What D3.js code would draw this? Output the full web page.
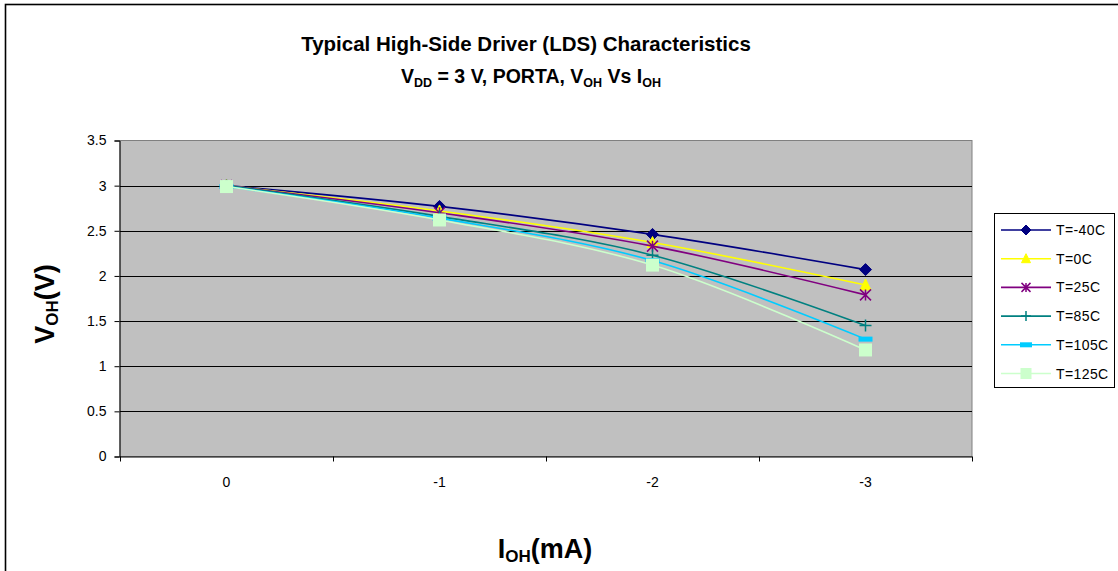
<!DOCTYPE html>
<html><head><meta charset="utf-8">
<script src="https://cdn.jsdelivr.net/npm/d3@7"></script>
<style>
html,body{margin:0;padding:0;background:#fff;}
svg{display:block;font-family:"Liberation Sans",Arial,sans-serif;}
</style></head>
<body><svg id="chart" width="1118" height="571"></svg>
<script>
const categories = ["0", "-1", "-2", "-3"];
const seriesNames = ["T=-40C", "T=0C", "T=25C", "T=85C", "T=105C", "T=125C"];
const tM40 = [3.00, 2.77, 2.46, 2.07];
const t0 = [3.00, 2.72, 2.37, 1.90];
const t25 = [3.00, 2.70, 2.33, 1.79];
const t85 = [3.00, 2.66, 2.23, 1.45];
const t105 = [2.99, 2.64, 2.17, 1.30];
const t125 = [2.99, 2.62, 2.12, 1.18];
const yTicks = [0, 0.5, 1, 1.5, 2, 2.5, 3, 3.5];
const colors = ["#000080", "#FFFF00", "#800080", "#008080", "#00CCFF", "#CCFFCC"];
const markers = ["diamond", "triangle", "asterisk", "plus", "dash", "square"];

const seriesValues = [tM40, t0, t25, t85, t105, t125];
const svg = d3.select("#chart");

// outer chart border
svg.append("rect").attr("x", 5.5).attr("y", 4.5).attr("width", 1130).attr("height", 600)
  .attr("fill", "#fff").attr("stroke", "#000").attr("stroke-width", 1.6);

const plot = {left: 120, right: 972, top: 140.5, bottom: 456.5};
const x = d3.scaleBand().domain(categories).range([plot.left, plot.right]).padding(0);
const y = d3.scaleLinear().domain([0, 3.5]).range([plot.bottom, plot.top]);

svg.append("rect").attr("x", plot.left).attr("y", plot.top)
  .attr("width", plot.right - plot.left).attr("height", plot.bottom - plot.top)
  .attr("fill", "#C0C0C0").attr("stroke", "#808080").attr("stroke-width", 1);

// gridlines
svg.append("g").selectAll("line").data(yTicks.filter(d => d > 0 && d < 3.5)).join("line")
  .attr("x1", plot.left).attr("x2", plot.right)
  .attr("y1", d => Math.round(y(d)) + 0.5).attr("y2", d => Math.round(y(d)) + 0.5)
  .attr("stroke", "#000").attr("stroke-width", 1);

// y axis
const yAxis = svg.append("g").attr("transform", `translate(${plot.left - 0.5},0)`)
  .call(d3.axisLeft(y).tickValues(yTicks).tickSize(5).tickPadding(8).tickFormat(d => String(d)));
yAxis.select(".domain").attr("stroke", "#000");
yAxis.selectAll(".tick line").attr("stroke", "#000");
yAxis.selectAll("text").attr("font-size", 14).attr("font-family", "Liberation Sans, Arial, sans-serif").attr("fill", "#000");

// x axis: ticks at band boundaries, labels at centers
const xAxisG = svg.append("g").attr("transform", `translate(0,${plot.bottom})`);
xAxisG.append("line").attr("x1", plot.left).attr("x2", plot.right).attr("y1", 0.5).attr("y2", 0.5).attr("stroke", "#000");
const bounds = categories.map(c => x(c)).concat([x(categories[categories.length - 1]) + x.bandwidth()]);
xAxisG.selectAll("line.tk").data(bounds).join("line").attr("class", "tk")
  .attr("x1", d => Math.round(d) + 0.5).attr("x2", d => Math.round(d) + 0.5)
  .attr("y1", 0).attr("y2", 5).attr("stroke", "#000");
xAxisG.selectAll("text").data(categories).join("text")
  .attr("x", d => x(d) + x.bandwidth() / 2).attr("y", 30)
  .attr("text-anchor", "middle").attr("font-size", 14).attr("fill", "#000").text(d => d);

// marker drawing
function drawMarker(g, type, color, size) {
  const s = size;
  if (type === "diamond") {
    g.append("path").attr("d", `M0,${-s/2}L${s/2},0L0,${s/2}L${-s/2},0Z`).attr("fill", color).attr("stroke", color);
  } else if (type === "triangle") {
    g.append("path").attr("d", `M0,${-s/2}L${s/2 - 0.5},${s/2 - 1}L${-s/2 + 0.5},${s/2 - 1}Z`).attr("fill", color).attr("stroke", color);
  } else if (type === "asterisk") {
    const r = s / 2 - 0.5;
    g.append("path").attr("d", `M${-r},${-r}L${r},${r}M${-r},${r}L${r},${-r}M0,${-r}L0,${r}`)
      .attr("stroke", color).attr("stroke-width", 1.5).attr("fill", "none");
  } else if (type === "plus") {
    const r = s / 2;
    g.append("path").attr("d", `M${-r},0L${r},0M0,${-r}L0,${r}`)
      .attr("stroke", color).attr("stroke-width", 1.5).attr("fill", "none");
  } else if (type === "dash") {
    g.append("rect").attr("x", -s/2).attr("y", -2.5).attr("width", s).attr("height", 5).attr("fill", color);
  } else if (type === "square") {
    g.append("rect").attr("x", -s/2).attr("y", -s/2).attr("width", s).attr("height", s).attr("fill", color);
  }
}

const line = d3.line().x((d, i) => x(categories[i]) + x.bandwidth() / 2).y(d => y(d)).curve(d3.curveCatmullRom.alpha(0.5));

const seriesG = svg.append("g");
seriesValues.forEach((vals, si) => {
  const g = seriesG.append("g");
  g.append("path").attr("d", line(vals)).attr("fill", "none").attr("stroke", colors[si]).attr("stroke-width", 1.6);
  vals.forEach((v, i) => {
    const mg = g.append("g").attr("transform", `translate(${x(categories[i]) + x.bandwidth() / 2},${y(v)})`);
    drawMarker(mg, markers[si], colors[si], si === 5 ? 13 : (si === 4 ? 14 : 12));
  });
});

// legend
const lg = svg.append("g");
lg.append("rect").attr("x", 994.5).attr("y", 213.5).attr("width", 120).attr("height", 174)
  .attr("fill", "#fff").attr("stroke", "#000").attr("stroke-width", 1);
seriesNames.forEach((name, si) => {
  const cy = 230 + si * 28.7;
  lg.append("line").attr("x1", 1001).attr("x2", 1051).attr("y1", cy).attr("y2", cy)
    .attr("stroke", colors[si]).attr("stroke-width", 1.6);
  const mg = lg.append("g").attr("transform", `translate(1026,${cy})`);
  drawMarker(mg, markers[si], colors[si], si === 5 ? 11 : (si === 4 ? 12 : 10));
  lg.append("text").attr("x", 1056).attr("y", cy + 5).attr("font-size", 14).attr("fill", "#000")
    .attr("letter-spacing", 0.4).text(name);
});

// titles
svg.append("text").attr("x", 526).attr("y", 51).attr("text-anchor", "middle")
  .attr("font-size", 20.5).attr("font-weight", "bold").attr("fill", "#000")
  .text("Typical High-Side Driver (LDS) Characteristics");
const t2 = svg.append("text").attr("x", 531).attr("y", 83).attr("text-anchor", "middle")
  .attr("font-size", 19.5).attr("font-weight", "bold").attr("fill", "#000");
t2.append("tspan").text("V");
t2.append("tspan").attr("font-size", 12.5).attr("dy", 4).text("DD");
t2.append("tspan").attr("dy", -4).text(" = 3 V, PORTA, V");
t2.append("tspan").attr("font-size", 12.5).attr("dy", 4).text("OH");
t2.append("tspan").attr("dy", -4).text(" Vs I");
t2.append("tspan").attr("font-size", 12.5).attr("dy", 4).text("OH");

// y axis title
const yt = svg.append("text").attr("transform", "translate(54,304) rotate(-90)").attr("text-anchor", "middle")
  .attr("font-size", 27).attr("font-weight", "bold").attr("fill", "#000");
yt.append("tspan").text("V");
yt.append("tspan").attr("font-size", 17).attr("dy", 4).text("OH");
yt.append("tspan").attr("dy", -4).text("(V)");

// x axis title
const xt = svg.append("text").attr("x", 545).attr("y", 558).attr("text-anchor", "middle")
  .attr("font-size", 27).attr("font-weight", "bold").attr("fill", "#000");
xt.append("tspan").text("I");
xt.append("tspan").attr("font-size", 17).attr("dy", 4).text("OH");
xt.append("tspan").attr("dy", -4).text("(mA)");
</script></body></html>
